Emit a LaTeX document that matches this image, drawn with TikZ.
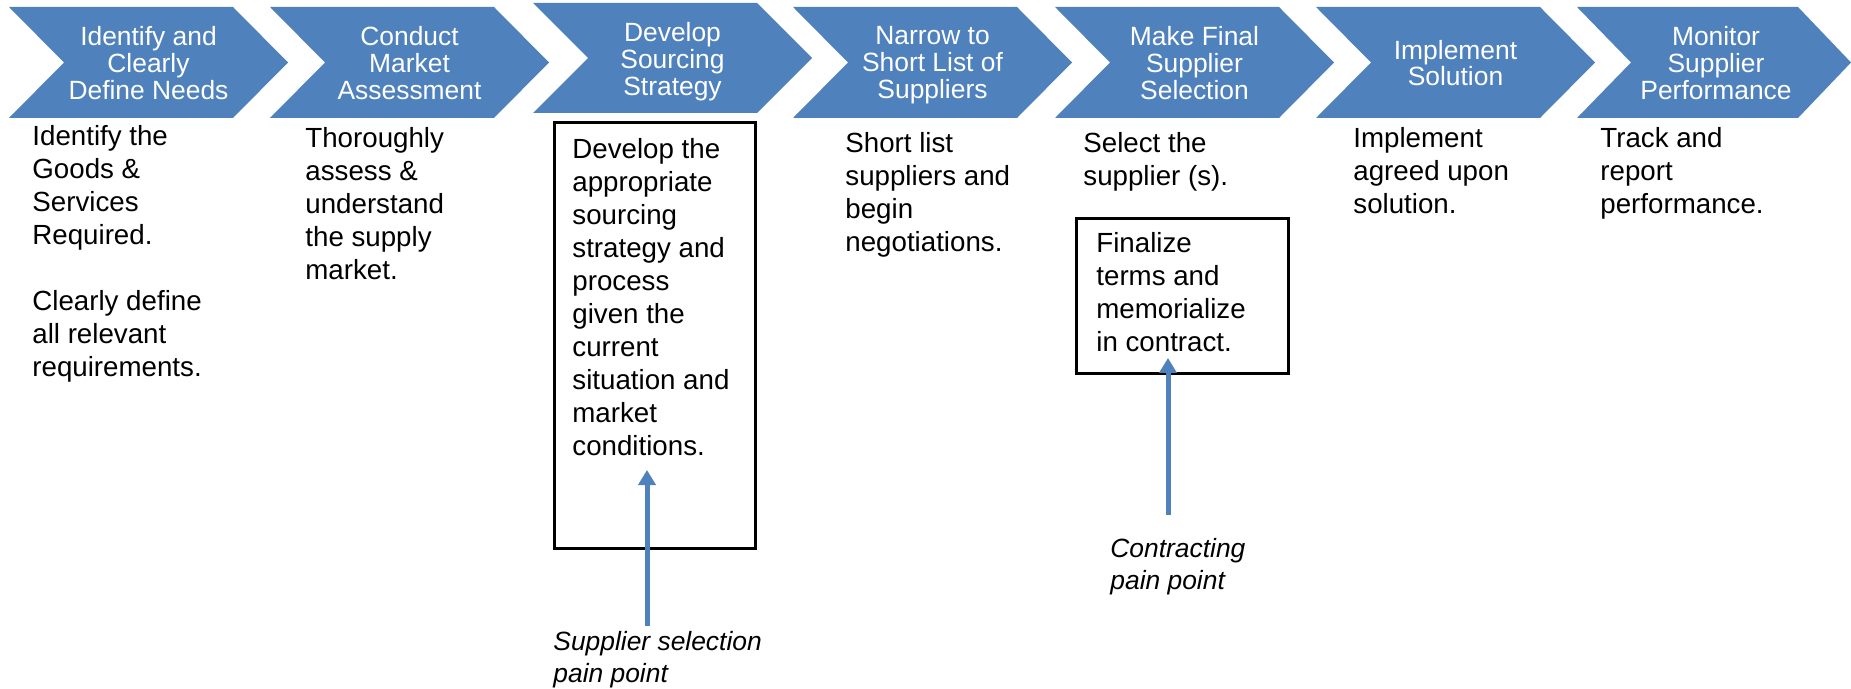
\documentclass[tikz,border=0pt]{standalone}
\usepackage{fontspec}
\setmainfont{Liberation Sans}
\usepackage{tikz}
\usetikzlibrary{arrows.meta}

\definecolor{stepblue}{RGB}{79,129,189}

\begin{document}
\begin{tikzpicture}[x=0.5pt, y=-0.5pt,
  chevron/.style = {fill=stepblue},
  steptitle/.style = {text=white, align=center, inner sep=0pt, anchor=north, font=\fontsize{13.2pt}{13.35pt}\selectfont},
  steptext/.style = {align=left, inner sep=0pt, anchor=north west, font=\fontsize{13.85pt}{16.5pt}\selectfont},
  painbox/.style = {draw, line width=1.6pt, inner sep=0pt, anchor=north west},
  painnote/.style = {align=left, inner sep=0pt, anchor=north west, font=\fontsize{13.2pt}{16pt}\selectfont\itshape},
  painarrow/.style = {-{Triangle[length=7.5pt, width=8.5pt]}, draw=stepblue, line width=2.5pt}]
\useasboundingbox (0,0) rectangle (1851,689);
% process steps
\fill[chevron] (9,7) -- ++(224,0) -- ++(55,55.5) -- ++(-55,55.5) -- ++(-224,0) -- ++(55,-55.5) -- cycle;
\fill[chevron] (270,7) -- ++(224,0) -- ++(55,55.5) -- ++(-55,55.5) -- ++(-224,0) -- ++(55,-55.5) -- cycle;
\fill[chevron] (533,3) -- ++(224,0) -- ++(55,55) -- ++(-55,55) -- ++(-224,0) -- ++(55,-55) -- cycle;
\fill[chevron] (793,7) -- ++(224,0) -- ++(55,55.5) -- ++(-55,55.5) -- ++(-224,0) -- ++(55,-55.5) -- cycle;
\fill[chevron] (1055,7) -- ++(224,0) -- ++(55,55.5) -- ++(-55,55.5) -- ++(-224,0) -- ++(55,-55.5) -- cycle;
\fill[chevron] (1316,7) -- ++(224,0) -- ++(55,55.5) -- ++(-55,55.5) -- ++(-224,0) -- ++(55,-55.5) -- cycle;
\fill[chevron] (1577,7) -- ++(221,0) -- ++(53,55.5) -- ++(-53,55.5) -- ++(-221,0) -- ++(54,-55.5) -- cycle;
\node[steptitle] (needs) at (148.5,26.3) {Identify and\\Clearly\\Define Needs};
\node[steptitle] (market) at (409.5,26.3) {Conduct\\Market\\Assessment};
\node[steptitle] (strategy) at (672.5,22.3) {Develop\\Sourcing\\Strategy};
\node[steptitle] (shortlist) at (932.5,26.3) {Narrow to\\Short List of\\Suppliers};
\node[steptitle] (selection) at (1194.5,26.3) {Make Final\\Supplier\\Selection};
\node[steptitle] (implement) at (1455.5,39.7) {Implement\\Solution};
\node[steptitle] (monitor) at (1716,26.3) {Monitor\\Supplier\\Performance};
% what each step means
\node[steptext] (needstext) at (32,125) {Identify the\\Goods \&\\Services\\Required.\\[16.5pt]Clearly define\\all relevant\\requirements.};
\node[steptext] (markettext) at (305,127) {Thoroughly\\assess \&\\understand\\the supply\\market.};
\node[painbox, minimum width=100.5pt, minimum height=213pt] (devbox) at (553,121) {};
\node[steptext] (devtext) at (572,138) {Develop the\\appropriate\\sourcing\\strategy and\\process\\given the\\current\\situation and\\market\\conditions.};
\node[steptext] (shortlisttext) at (845,132) {Short list\\suppliers and\\begin\\negotiations.};
\node[steptext] (selectiontext) at (1083,132) {Select the\\supplier (s).};
\node[painbox, minimum width=106pt, minimum height=77.5pt] (ctrbox) at (1075,217) {};
\node[steptext] (ctrtext) at (1096,232) {Finalize\\terms and\\memorialize\\in contract.};
\node[steptext] (implementtext) at (1353,127) {Implement\\agreed upon\\solution.};
\node[steptext] (monitortext) at (1600,127) {Track and\\report\\performance.};
% pain points
\node[painnote] (selnote) at (553,631) {Supplier selection\\pain point};
\node[painnote] (ctrnote) at (1110,538) {Contracting\\pain point};
\coordinate (devtip) at (647,470);
\coordinate (ctrtip) at (1168,358);
\draw[painarrow] ([yshift=2.5pt]selnote.north -| devtip) -- (devtip);
\draw[painarrow] ([yshift=11.5pt]ctrnote.north -| ctrtip) -- (ctrtip);
\end{tikzpicture}
\end{document}
